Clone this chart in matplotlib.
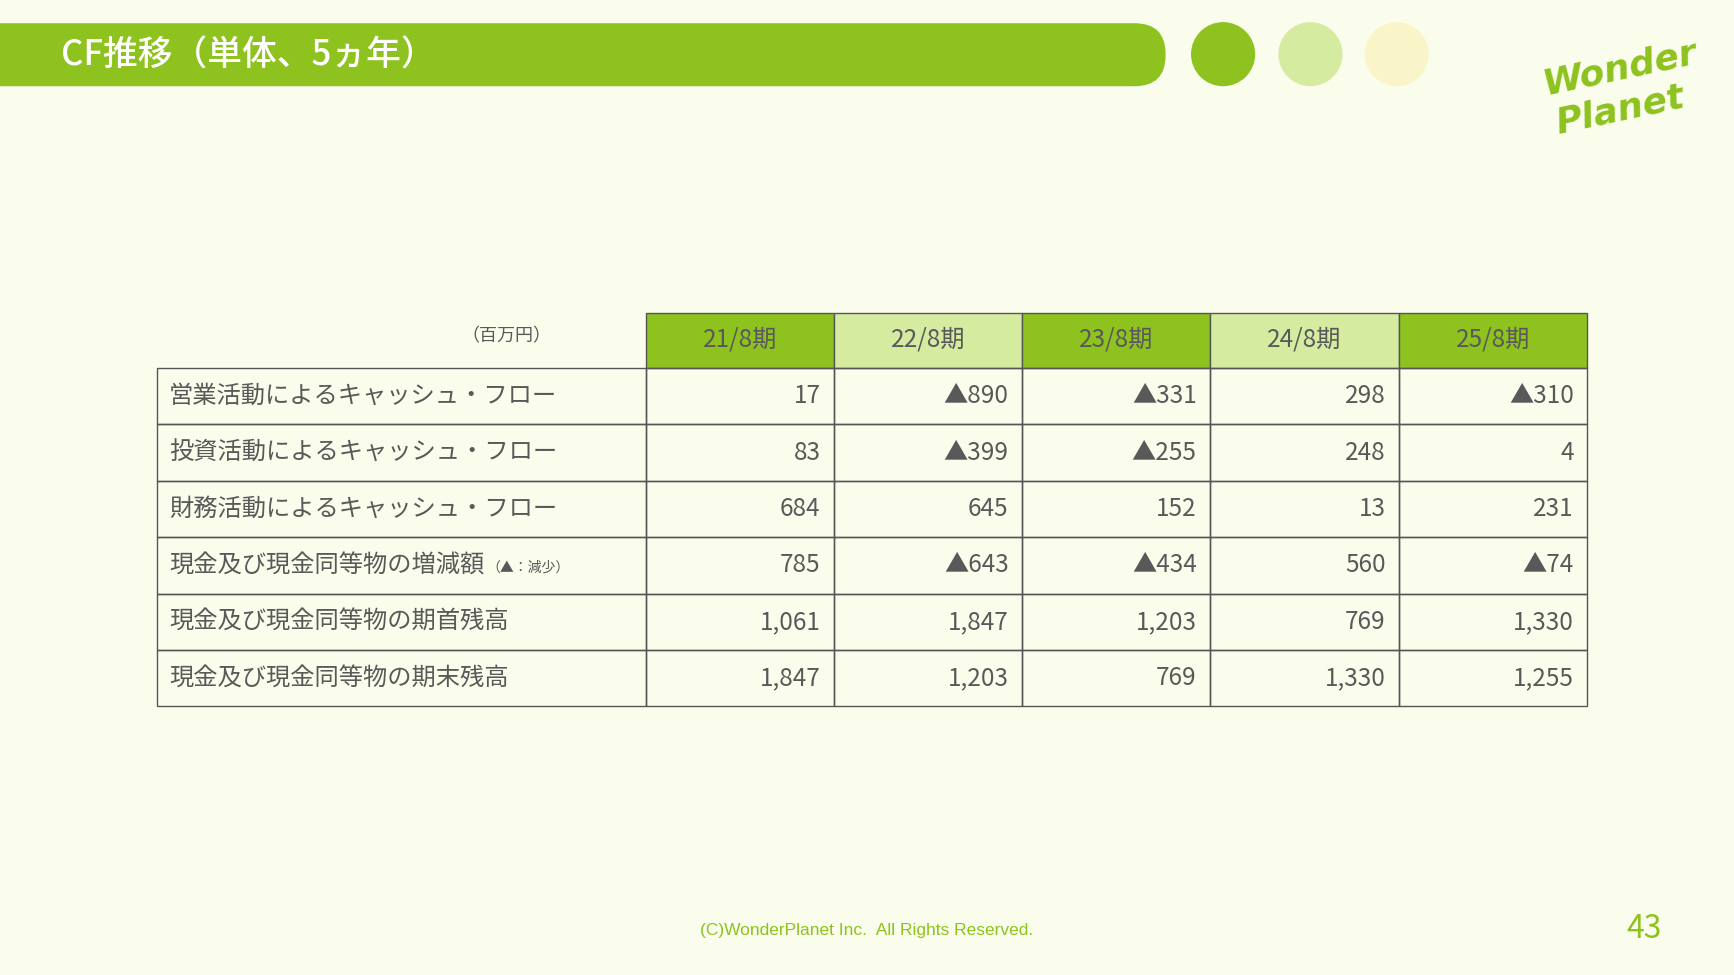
import matplotlib
matplotlib.use("Agg")
import matplotlib.pyplot as plt
from matplotlib.patches import Rectangle, FancyBboxPatch, Circle

plt.rcParams['font.family'] = ['Noto Sans CJK JP', 'DejaVu Sans']

title = "CF推移（単体、5ヵ年）"
unit = "（百万円）"
periods = ["21/8期", "22/8期", "23/8期", "24/8期", "25/8期"]
items = ["営業活動によるキャッシュ・フロー", "投資活動によるキャッシュ・フロー",
         "財務活動によるキャッシュ・フロー", "現金及び現金同等物の増減額",
         "現金及び現金同等物の期首残高", "現金及び現金同等物の期末残高"]
op_cf = [17, -890, -331, 298, -310]
inv_cf = [83, -399, -255, 248, 4]
fin_cf = [684, 645, 152, 13, 231]
change = [785, -643, -434, 560, -74]
begin_bal = [1061, 1847, 1203, 769, 1330]
end_bal = [1847, 1203, 769, 1330, 1255]
values = [op_cf, inv_cf, fin_cf, change, begin_bal, end_bal]

GREEN = "#8DC21F"; LIGHT = "#D5EBA0"; PALE = "#FAF5C8"; BG = "#FAFDEC"; TXT = "#595959"

W, H = 1568, 882
fig = plt.figure(figsize=(17.34, 9.75), dpi=100, facecolor=BG)
ax = fig.add_axes([0, 0, 1, 1])
ax.set_xlim(0, W); ax.set_ylim(H, 0); ax.axis('off')
ax.set_facecolor(BG)

ax.add_patch(FancyBboxPatch((-40, 21), 1094, 57, boxstyle="round,pad=0,rounding_size=28",
                            fc=GREEN, ec='none', mutation_aspect=1))
ax.text(55, 50, title, color='white', fontsize=25, va='center', ha='left', fontweight='medium')
for cx, c in zip([1106, 1185, 1263], [GREEN, LIGHT, PALE]):
    ax.add_patch(Circle((cx, 49), 29, fc=c, ec='none'))

ax.text(1465, 62, "Wonder", color=GREEN, fontsize=26, style='italic', fontweight='bold',
        ha='center', va='center', rotation=12, family='DejaVu Sans')
ax.text(1465, 100, "Planet", color=GREEN, fontsize=26, style='italic', fontweight='bold',
        ha='center', va='center', rotation=12, family='DejaVu Sans')

xs = [142, 584, 754, 924, 1094, 1265, 1435]
ys = [283, 333, 384, 435, 486, 537, 588, 639]
FS = 17.5

ax.text(458, 304, unit, color=TXT, fontsize=13, ha='center', va='center')
for i, p in enumerate(periods):
    ax.add_patch(Rectangle((xs[i+1], ys[0]), xs[i+2]-xs[i+1], ys[1]-ys[0],
                           fc=GREEN if i % 2 == 0 else LIGHT, ec='#555555', lw=1))
    ax.text((xs[i+1]+xs[i+2])/2, 307, p, color=TXT, fontsize=FS, ha='center', va='center')

def fmt(v):
    s = f"{abs(v):,}"
    return ("▲" + s) if v < 0 else s

fig.canvas.draw()
renderer = fig.canvas.get_renderer()
for r, (item, vals) in enumerate(zip(items, values)):
    y0, y1 = ys[r+1], ys[r+2]
    for c in range(6):
        ax.add_patch(Rectangle((xs[c], y0), xs[c+1]-xs[c], y1-y0, fc='none', ec='#555555', lw=1))
    ym = (y0 + y1) / 2
    t = ax.text(153, ym, item, color=TXT, fontsize=FS, ha='left', va='center')
    if r == 3:
        bb = t.get_window_extent(renderer)
        xend = ax.transData.inverted().transform((bb.x1, 0))[0]
        ax.text(xend + 2, ym + 2, "（▲：減少）", color=TXT, fontsize=10, ha='left', va='center')
    for c, v in enumerate(vals):
        ax.text(xs[c+2] - 12, ym, fmt(v), color=TXT, fontsize=FS, ha='right', va='center')

ax.text(784, 842, "(C)WonderPlanet Inc.  All Rights Reserved.", color=GREEN, fontsize=12.5,
        ha='center', va='center', family='Liberation Sans')
ax.text(1487, 840, "43", color=GREEN, fontsize=23, ha='center', va='center')

fig.savefig("out.png", dpi=100, facecolor=BG)
